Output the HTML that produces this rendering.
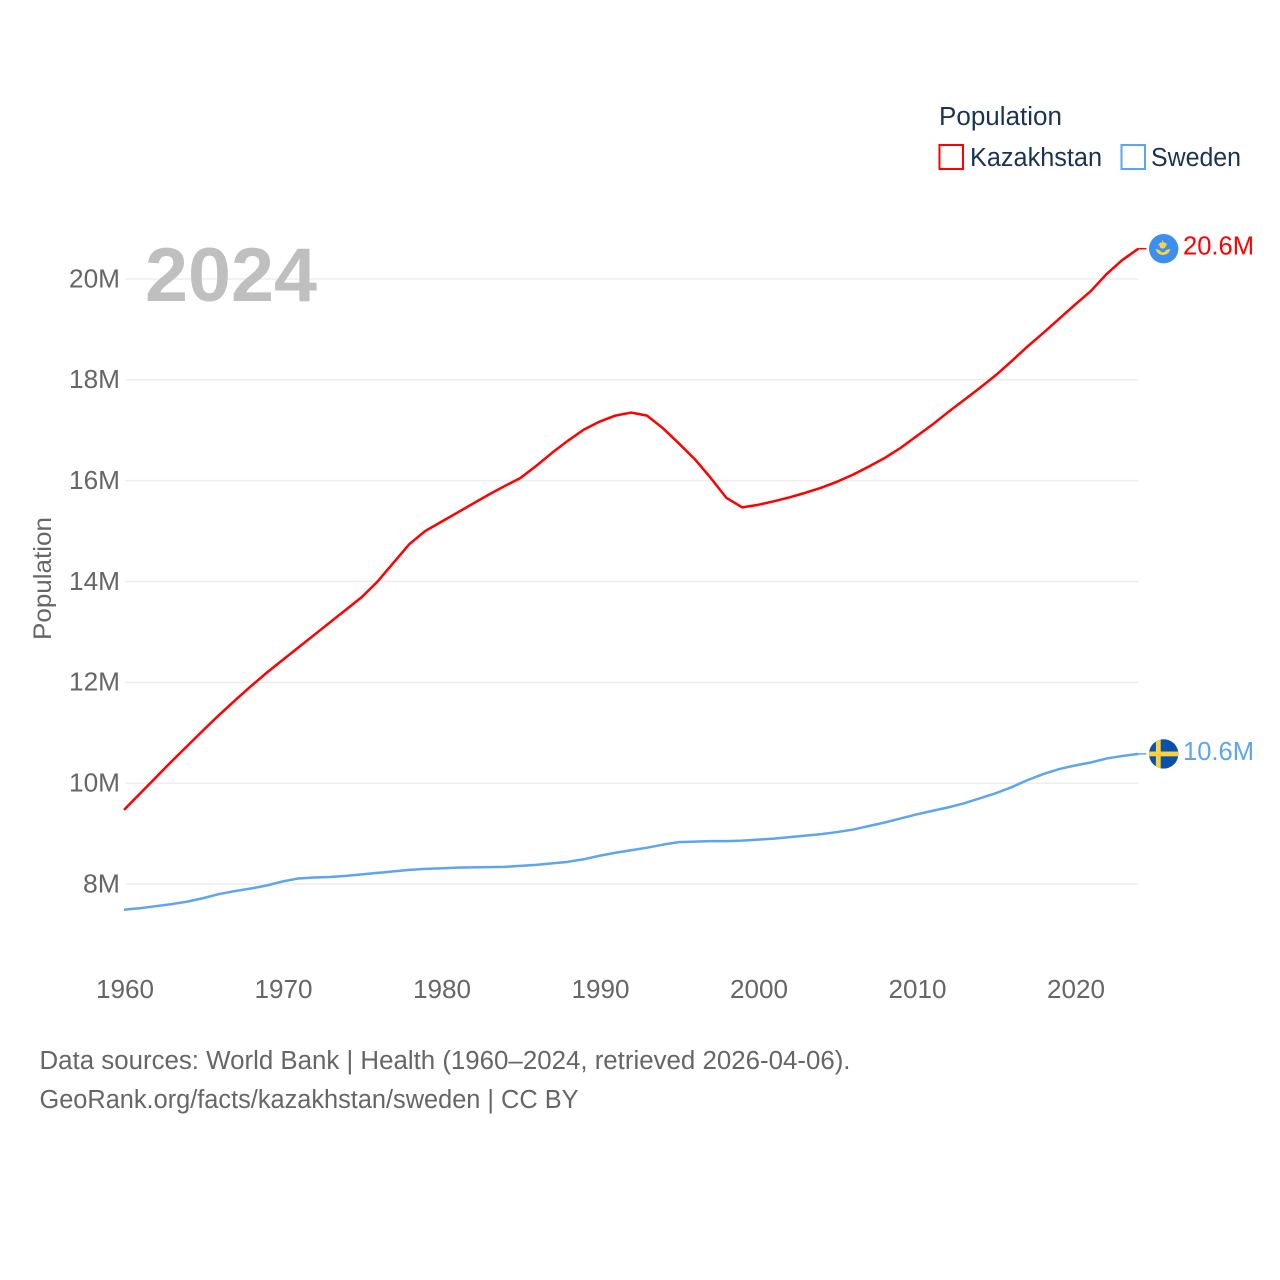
<!DOCTYPE html>
<html lang="en">
<head>
<meta charset="utf-8">
<title>Population: Kazakhstan and Sweden</title>
<style>
html,body{margin:0;padding:0;background:#fff;width:1280px;height:1280px;overflow:hidden}
svg{display:block;font-family:"Liberation Sans",sans-serif}
</style>
</head>
<body>
<svg id="chart" width="1280" height="1280" viewBox="0 0 1280 1280" xmlns="http://www.w3.org/2000/svg">
  <defs>
    <clipPath id="kz-clip"><circle cx="0" cy="0" r="14.7"></circle></clipPath>
    <clipPath id="se-clip"><circle cx="0" cy="0" r="14.7"></circle></clipPath>
  </defs>
  <g id="grid"></g>
  <g id="yaxis"></g>
  <g id="xaxis"></g>
  <text x="145" y="301" font-size="76" font-weight="700" fill="#bfbfbf" textLength="172" lengthAdjust="spacingAndGlyphs">2024</text>
  <text transform="translate(51,640) rotate(-90)" font-size="25" fill="#666" textLength="123" lengthAdjust="spacingAndGlyphs">Population</text>
  <g id="series"></g>

  <g>
    <text x="939" y="125" font-size="25.5" fill="#1a3353" textLength="123" lengthAdjust="spacingAndGlyphs">Population</text>
    <g>
      <rect x="939.5" y="145" width="23.5" height="24" fill="#fff" stroke="#ff0000" stroke-width="2"></rect>
      <text x="970" y="166" font-size="25.5" fill="#1a3353" textLength="132" lengthAdjust="spacingAndGlyphs">Kazakhstan</text>
    </g>
    <g>
      <rect x="1121.5" y="145" width="23.5" height="24" fill="#fff" stroke="#5ea5ee" stroke-width="2"></rect>
      <text x="1151" y="166" font-size="25.5" fill="#1a3353" textLength="90" lengthAdjust="spacingAndGlyphs">Sweden</text>
    </g>
  </g>

  <g id="flag-kz">
    <g clip-path="url(#kz-clip)">
      <rect x="-15" y="-15" width="30" height="30" fill="#3b8ff0"></rect>
      <circle cx="-1" cy="-3.4" r="3.2" fill="#ffd43b"></circle>
      <path d="M-5.4 -3.4 L-3 -6 M3.4 -3.4 L1 -6 M-1 -8.4 L-1 -6.5" stroke="#ffd43b" stroke-width="0.8" fill="none"></path>
      <path d="M-8 0 C-6 1 -4 1.6 -1 1.8 C2 1.6 4 1 6.5 0 C6 3.4 4 6 -0.7 6.3 C-5 6 -7.4 3.4 -8 0Z" fill="#ffd43b"></path>
      <path d="M-4 1.5 C-3 3 -2 3.6 -0.8 3.7 C0.4 3.6 1.4 3 2.6 1.5Z" fill="#3b8ff0"></path>
    </g>
  </g>
  <g id="flag-se">
    <g clip-path="url(#se-clip)">
      <rect x="-15" y="-15" width="30" height="30" fill="#0a50ad"></rect>
      <rect x="-15" y="-2.4" width="30" height="4.8" fill="#fdd13a"></rect>
      <rect x="-7.8" y="-15" width="4.8" height="30" fill="#fdd13a"></rect>
    </g>
  </g>
  <text id="label-kz" x="1183" y="255" font-size="25.5" fill="#ff0000" textLength="71" lengthAdjust="spacingAndGlyphs"></text>
  <text id="label-se" x="1183" y="760" font-size="25.5" fill="#5ea5ee" textLength="71" lengthAdjust="spacingAndGlyphs"></text>

  <g>
    <text x="39.5" y="1069" font-size="25.5" fill="#666" textLength="811" lengthAdjust="spacingAndGlyphs">Data sources: World Bank | Health (1960–2024, retrieved 2026-04-06).</text>
    <text x="39.5" y="1108" font-size="25.5" fill="#666" textLength="539" lengthAdjust="spacingAndGlyphs">GeoRank.org/facts/kazakhstan/sweden | CC BY</text>
  </g>
</svg>
<script>
const years = [1960,1961,1962,1963,1964,1965,1966,1967,1968,1969,1970,1971,1972,1973,1974,1975,1976,1977,1978,1979,1980,1981,1982,1983,1984,1985,1986,1987,1988,1989,1990,1991,1992,1993,1994,1995,1996,1997,1998,1999,2000,2001,2002,2003,2004,2005,2006,2007,2008,2009,2010,2011,2012,2013,2014,2015,2016,2017,2018,2019,2020,2021,2022,2023,2024];
const kazakhstan = [9.47,9.79,10.11,10.43,10.74,11.05,11.35,11.64,11.92,12.19,12.44,12.69,12.94,13.19,13.44,13.69,14.0,14.37,14.74,15.0,15.18,15.36,15.54,15.72,15.89,16.05,16.29,16.55,16.79,17.01,17.17,17.29,17.35,17.29,17.04,16.74,16.43,16.06,15.66,15.47,15.52,15.59,15.67,15.76,15.86,15.98,16.12,16.28,16.45,16.65,16.88,17.11,17.36,17.6,17.84,18.09,18.37,18.66,18.93,19.21,19.49,19.76,20.1,20.38,20.6];
const sweden = [7.49,7.52,7.56,7.6,7.65,7.72,7.8,7.86,7.91,7.97,8.05,8.11,8.13,8.14,8.16,8.19,8.22,8.25,8.28,8.3,8.31,8.325,8.33,8.335,8.34,8.36,8.38,8.41,8.44,8.49,8.56,8.62,8.67,8.72,8.78,8.83,8.84,8.85,8.85,8.86,8.88,8.9,8.93,8.96,8.99,9.03,9.08,9.15,9.22,9.3,9.38,9.45,9.52,9.6,9.7,9.8,9.92,10.06,10.18,10.28,10.35,10.41,10.49,10.54,10.58];
const yTicks = [8,10,12,14,16,18,20];
const yTickLabels = ["8M","10M","12M","14M","16M","18M","20M"];
const xTicks = [1960,1970,1980,1990,2000,2010,2020];
const xTickLabels = ["1960","1970","1980","1990","2000","2010","2020"];

const NS = "http://www.w3.org/2000/svg";
function xScale(year){ return 124 + (year - 1960) * 15.85; }
function yScale(v){ return 884 - (v - 8) * 50.42; }
function make(tag, attrs, parent){
  const el = document.createElementNS(NS, tag);
  for (const k in attrs) el.setAttribute(k, attrs[k]);
  parent.appendChild(el);
  return el;
}
const gridG = document.getElementById("grid");
const yG = document.getElementById("yaxis");
const xG = document.getElementById("xaxis");
const seriesG = document.getElementById("series");
const plotRight = xScale(2024);

yTicks.forEach(function(t, i){
  const line = make("line", {x1:125, x2:plotRight, y1:yScale(t), y2:yScale(t), stroke:"#ededed", "stroke-width":1.5}, gridG);
  
  
  const label = make("text", {x:120, y:yScale(t)+8.4, "text-anchor":"end", "font-size":25.5, fill:"#666"}, yG);
  
  
  label.setAttribute("textLength", yTickLabels[i].length === 2 ? 37 : 51);
  label.setAttribute("lengthAdjust", "spacingAndGlyphs");
  label.textContent = yTickLabels[i];
});

xTicks.forEach(function(t, i){
  const label = make("text", {x:xScale(t)+1, y:998, "text-anchor":"middle", "font-size":25.5, fill:"#666"}, xG);
  
  
  label.setAttribute("textLength", 58);
  label.setAttribute("lengthAdjust", "spacingAndGlyphs");
  label.textContent = xTickLabels[i];
});

function linePath(values){
  let d = "";
  values.forEach(function(v, i){
    d += (i ? "L" : "M") + xScale(years[i]).toFixed(2) + " " + yScale(v).toFixed(2);
  });
  return d;
}
function fmt(v){ return v.toFixed(1) + "M"; }

const kzLine = make("path", {d:linePath(kazakhstan), fill:"none", stroke:"#ff0000", "stroke-width":2.5, "stroke-linejoin":"round"}, seriesG);


const seLine = make("path", {d:linePath(sweden), fill:"none", stroke:"#5ea5ee", "stroke-width":2.5, "stroke-linejoin":"round"}, seriesG);



const kzLast = kazakhstan[kazakhstan.length-1];
const seLast = sweden[sweden.length-1];
const kzConn = make("line", {x1:plotRight, x2:plotRight+8, y1:yScale(kzLast), y2:yScale(kzLast), stroke:"#ff0000", "stroke-width":1.5}, seriesG);


const seConn = make("line", {x1:plotRight, x2:plotRight+8, y1:yScale(seLast), y2:yScale(seLast), stroke:"#5ea5ee", "stroke-width":1.5}, seriesG);



document.getElementById("flag-kz").setAttribute("transform", "translate(1163.7," + yScale(kzLast) + ")");
document.getElementById("flag-se").setAttribute("transform", "translate(1163.7," + yScale(seLast) + ")");
const lk = document.getElementById("label-kz");
lk.textContent = fmt(kzLast);
lk.setAttribute("y", yScale(kzLast) + 6);
const ls = document.getElementById("label-se");
ls.textContent = fmt(seLast);
ls.setAttribute("y", yScale(seLast) + 6);
</script>
</body>
</html>
